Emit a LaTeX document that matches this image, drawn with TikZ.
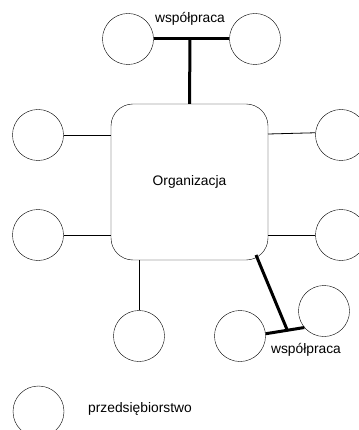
\documentclass[tikz,border=0pt]{standalone}
\usepackage{fontspec}
\setmainfont{Liberation Sans}
\begin{document}
\begin{tikzpicture}[x=1pt,y=-1pt,
    firm/.style={circle,draw,minimum size=51,inner sep=0pt},
    org/.style={draw,rounded corners=22,minimum width=157,minimum height=156,inner sep=0pt},
    link/.style={line width=0.8pt},
    coop/.style={line width=3pt},
    every node/.append style={font=\fontsize{13.8}{16}\selectfont}]
    \useasboundingbox (0,0) rectangle (358,430);
    \node [org] (org) at (189.5,182) {Organizacja};
    % top pair
    \node [firm] (t1) at (128,39) {};
    \node [firm] (t2) at (255,39) {};
    \coordinate (tj) at (190,39);
    \node (tlabel) at (190,19) {współpraca};
    % sides
    \node [firm] (l1) at (38,135) {};
    \node [firm] (l2) at (38,235) {};
    \node [firm] (r1) at (341,135) {};
    \node [firm] (r2) at (341,235) {};
    \coordinate (o1) at (268,134);
    % bottom
    \node [firm] (b1) at (139,336) {};
    \node [firm] (b2) at (240,336) {};
    \node [firm] (b3) at (324,311) {};
    \coordinate (oc) at (256,255);
    \coordinate (tj2) at (287,329.5);
    \node (blabel) at (306,350) {współpraca};
    % legend
    \node [firm] (leg) at (38.5,411.5) {};
    \node (legtext) at (140,409) {przedsiębiorstwo};

    \draw [link] (l1.east) -- (l1.east -| org.west);
    \draw [link] (l2.east) -- (l2.east -| org.west);
    \draw [link] (o1) -- (r1.175);
    \draw [link] (r2.west) -- (r2.west -| org.east);
    \draw [link] (b1.north) -- (b1.north |- org.south);
    \draw [coop] (t1.east) -- (t2.west);
    \draw [coop] (tj) -- (org.north);
    \draw [coop] (b2.5) -- (b3.220);
    \draw [coop] (oc) -- (tj2);
\end{tikzpicture}
\end{document}
